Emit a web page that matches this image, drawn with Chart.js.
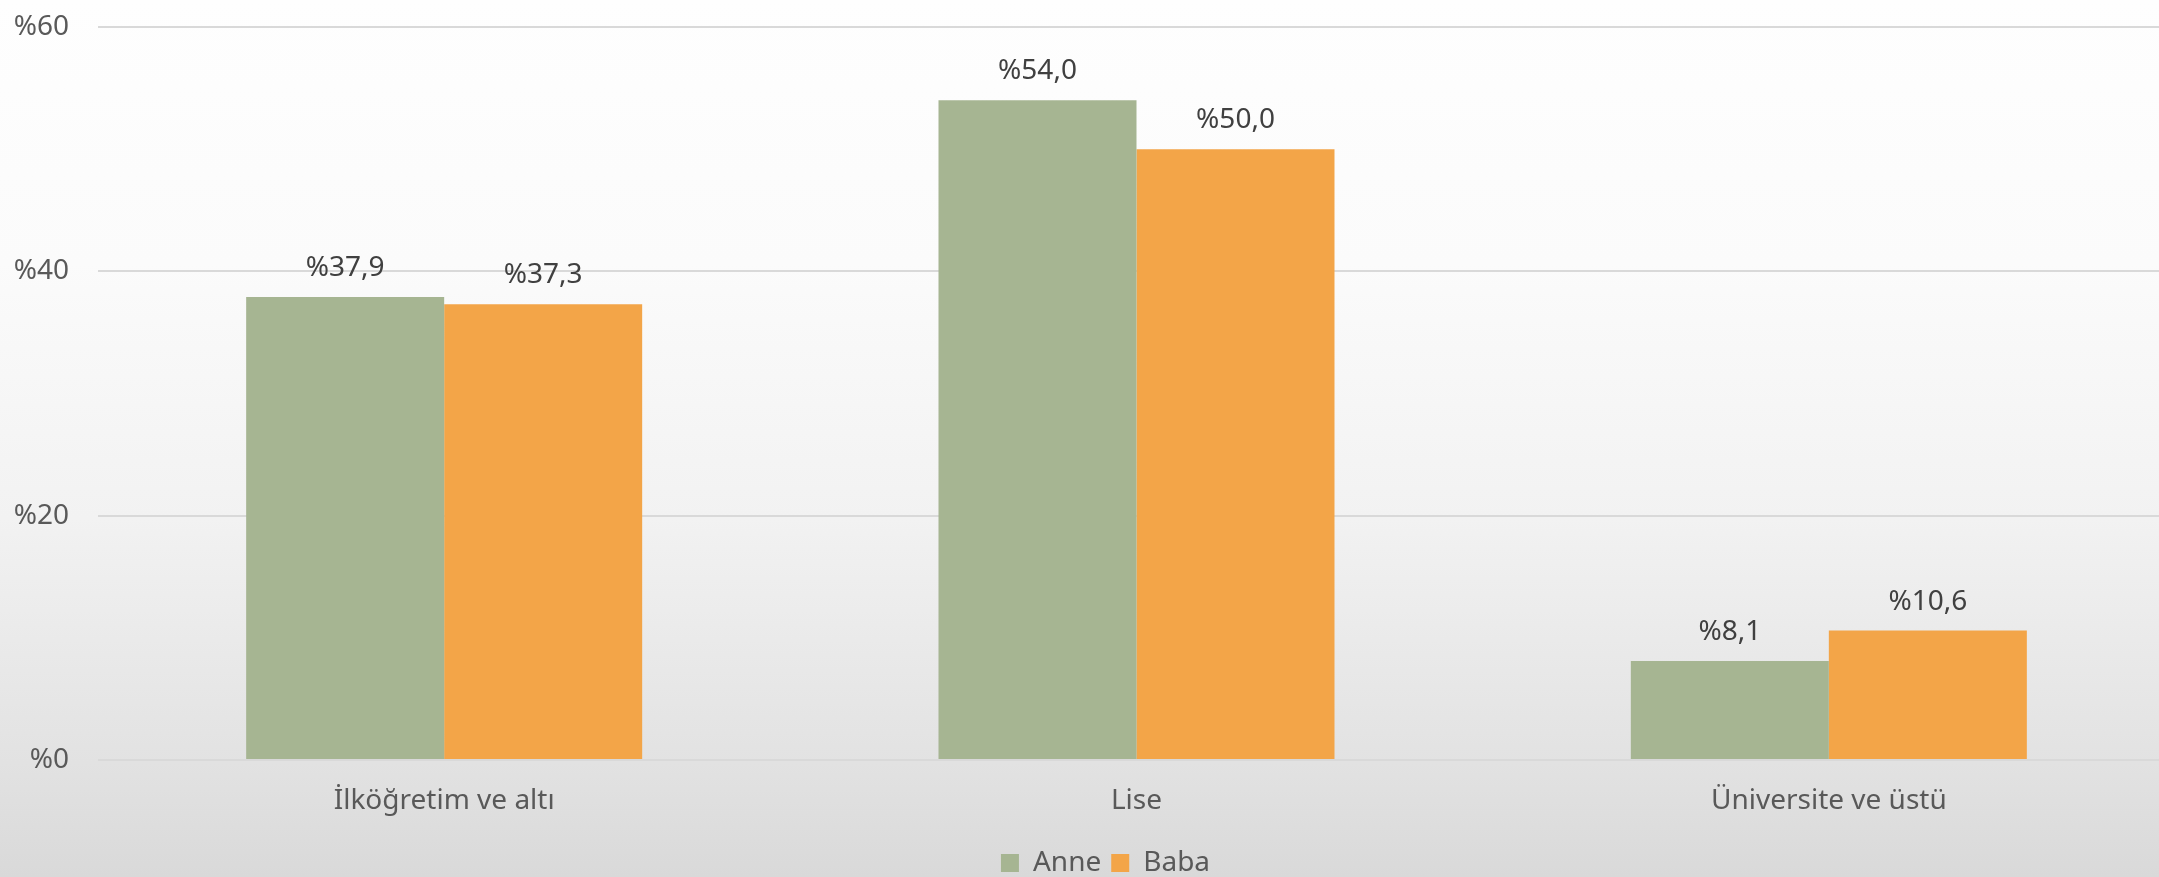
<!DOCTYPE html>
<html>
<head>
<meta charset="utf-8">
<script src="https://cdn.jsdelivr.net/npm/chart.js@4/dist/chart.umd.min.js"></script>
<style>
  html, body { margin: 0; padding: 0; overflow: hidden; }
  #wrap {
    width: 2159px; height: 877px; overflow: hidden; position: relative;
    background: linear-gradient(to bottom, #fefefe 0%, #fbfbfb 30%, #f2f2f2 59%, #e2e2e2 87%, #d9d9d9 100%);
  }
  canvas { position: absolute; left: 0; top: 0; }
</style>
</head>
<body>
<div id="wrap"><canvas id="c" width="2175" height="887"></canvas></div>
<script>
const categories = ["İlköğretim ve altı", "Lise", "Üniversite ve üstü"];
const anneValues = [37.9, 54.0, 8.1];
const babaValues = [37.3, 50.0, 10.6];
const seriesNames = ["Anne", "Baba"];
const yTicks = [0, 20, 40, 60];

const FONT = "'Noto Sans', 'Open Sans', sans-serif";
const fmt = v => "%" + v.toFixed(1).replace(".", ",");

const dataLabels = {
  id: "dataLabels",
  afterDatasetsDraw(chart) {
    const ctx = chart.ctx;
    ctx.save();
    ctx.font = "28px " + FONT;
    ctx.fillStyle = "#404040";
    ctx.textAlign = "center";
    ctx.textBaseline = "alphabetic";
    chart.data.datasets.forEach((ds, di) => {
      const meta = chart.getDatasetMeta(di);
      meta.data.forEach((bar, i) => {
        ctx.fillText(fmt(ds.data[i]), bar.x, bar.y - 21);
      });
    });
    ctx.restore();
  }
};

const legendShift = {
  id: "legendShift",
  afterLayout(chart) {
    if (chart.legend) { chart.legend.left += 18; chart.legend.right += 18; }
  }
};

new Chart(document.getElementById("c"), {
  type: "bar",
  data: {
    labels: categories,
    datasets: [
      { label: seriesNames[0], data: anneValues, backgroundColor: "#a6b592", borderWidth: 0 },
      { label: seriesNames[1], data: babaValues, backgroundColor: "#f3a548", borderWidth: 0 }
    ]
  },
  options: {
    responsive: false,
    devicePixelRatio: 1,
    animation: false,
    layout: { padding: { top: 27, right: 0, left: 0, bottom: 0 } },
    datasets: { bar: { barPercentage: 1.0, categoryPercentage: 0.572 } },
    scales: {
      x: {
        grid: { display: false, drawTicks: false },
        border: { display: false },
        ticks: { color: "#595959", font: { family: FONT, size: 28 }, padding: 24, maxRotation: 0 },
        afterFit(scale) { scale.height = 79; scale.paddingLeft = 0; scale.paddingRight = 0; }
      },
      y: {
        min: 0, max: 60,
        afterBuildTicks(scale) { scale.ticks = yTicks.map(v => ({ value: v })); },
        grid: { color: "#d9d9d9", lineWidth: 2, drawTicks: false },
        border: { display: false },
        ticks: {
          color: "#595959", font: { family: FONT, size: 28 }, padding: 29,
          callback: v => "%" + v
        },
        afterFit(scale) { scale.width = 98; scale.paddingTop = 0; scale.paddingBottom = 0; }
      }
    },
    plugins: {
      legend: {
        position: "bottom",
        labels: {
          color: "#595959", font: { family: FONT, size: 28 },
          boxWidth: 18, boxHeight: 18, padding: 10
        }
      },
      tooltip: { enabled: false }
    }
  },
  plugins: [dataLabels, legendShift]
});
</script>
</body>
</html>
